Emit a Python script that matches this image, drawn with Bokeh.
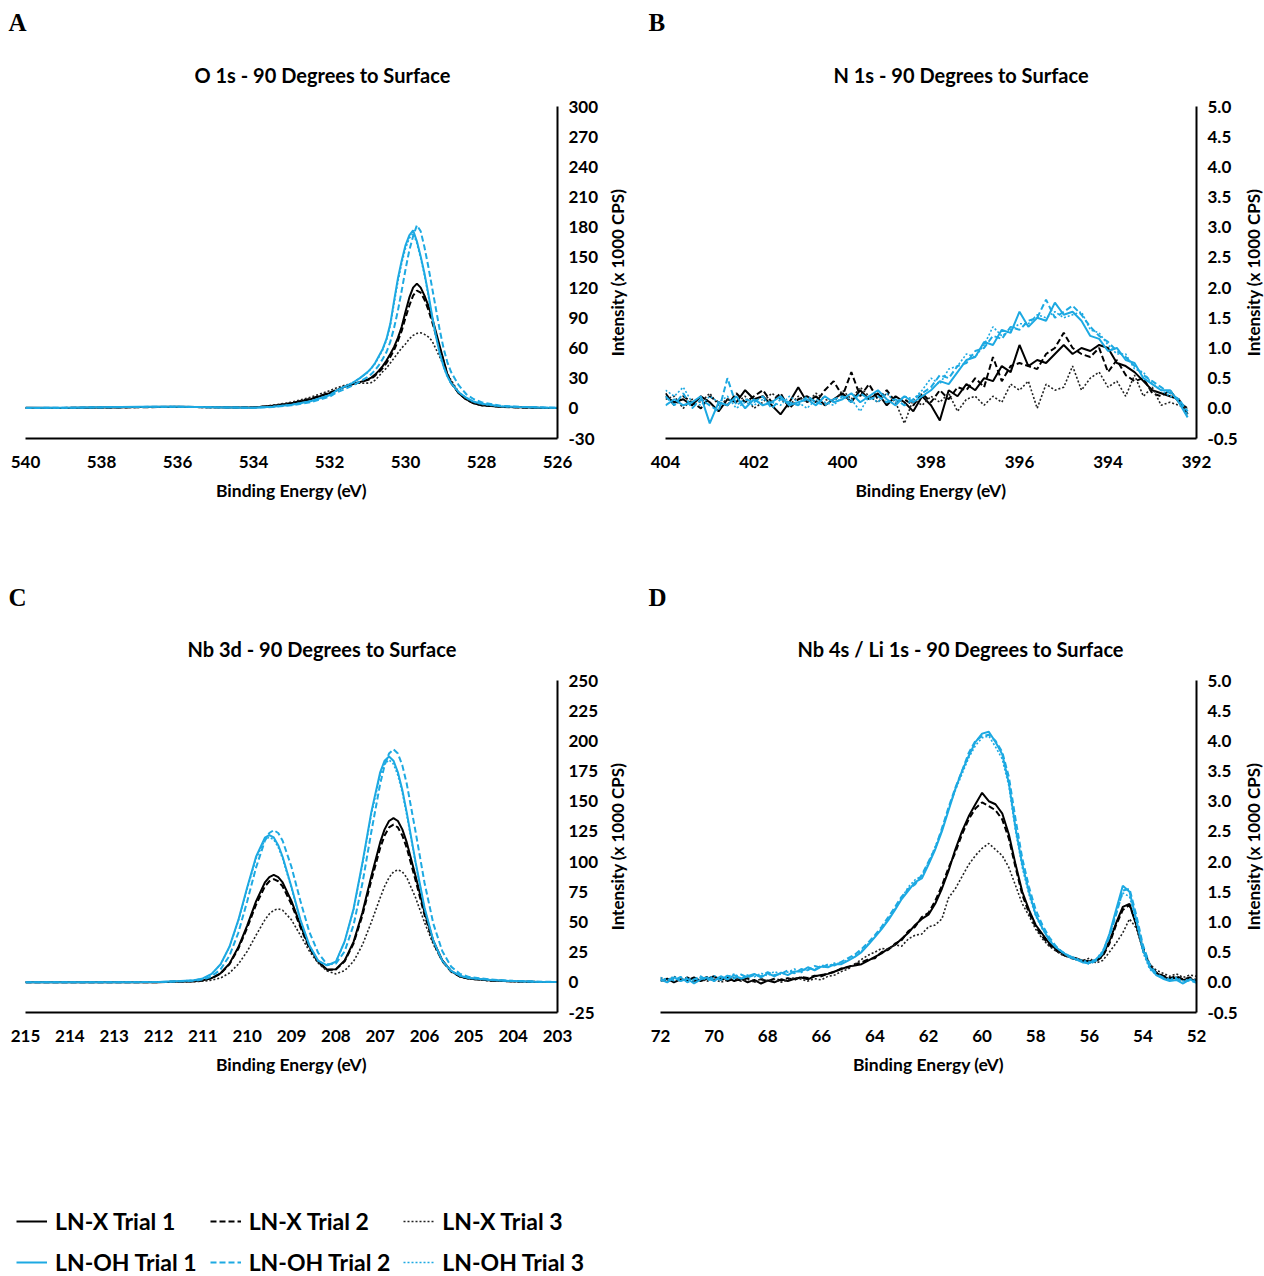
import math
from bokeh.plotting import figure
from bokeh.models import (Range1d, FixedTicker, NumeralTickFormatter, Title,
                          Legend, LegendItem)
from bokeh.layouts import column, row
from bokeh.embed import file_html
from bokeh.resources import INLINE

# ---------------- data ----------------
series_names = ["LN-X Trial 1", "LN-X Trial 2", "LN-X Trial 3",
                "LN-OH Trial 1", "LN-OH Trial 2", "LN-OH Trial 3"]

# Panel A : O 1s
a_x = [540, 539, 538, 537, 536, 535, 534, 533.5, 533, 532.5,
       532.0, 531.8, 531.6, 531.4, 531.2,
       531.0, 530.9, 530.8, 530.7, 530.6, 530.5, 530.4, 530.3, 530.2, 530.1,
       530.0, 529.9, 529.8, 529.7, 529.6, 529.5, 529.4, 529.3, 529.2, 529.1,
       529.0, 528.9, 528.8,
       528.6, 528.4, 528.2, 528.0, 527.5, 527, 526.5, 526]
a_x1 = [0.5, 0.3, 0.8, 1.2, 1.5, 1.0, 0.8, 2.5, 5.0, 9.0, 15.0, 18.0, 21.5, 24.0, 26.0,
        28.5, 30.5, 33.5, 37.5, 42.0, 47.5, 54.0, 61.0, 70.0, 81.0, 96.0, 110.0, 120.0,
        124.0, 120.0, 112.0, 102.0, 90.0, 76.0, 62.0, 48.0, 34.0, 26.0,
        15.0, 9.0, 5.0, 3.0, 1.5, 1.0, 0.5, 0.3]
a_x2 = [0.4, 0.4, 0.8, 1.0, 1.4, 1.0, 0.8, 2.5, 5.0, 9.5, 15.5, 18.5, 21.5, 24.0, 26.0,
        28.0, 29.5, 32.5, 36.0, 40.0, 45.0, 51.0, 58.0, 67.0, 77.0, 90.0, 102.0, 112.0,
        117.0, 115.0, 108.0, 98.0, 86.0, 73.0, 60.0, 47.0, 34.0, 25.0,
        15.0, 8.5, 5.0, 3.0, 1.5, 0.8, 0.5, 0.3]
a_x3 = [0.3, 0.3, 0.6, 1.0, 1.2, 0.8, 1.0, 3.0, 6.0, 11.0, 17.5, 20.5, 23.0, 24.5, 25.0,
        25.0, 25.5, 28.0, 32.0, 36.5, 40.0, 45.0, 50.0, 55.0, 60.0, 64.0, 69.0, 72.5,
        74.5, 75.0, 73.5, 71.0, 67.0, 59.0, 51.0, 43.0, 35.0, 28.0,
        16.0, 9.0, 5.0, 3.0, 1.5, 0.8, 0.5, 0.3]
a_oh1 = [0.5, 0.5, 1.0, 1.5, 1.5, 1.0, 0.5, 1.5, 3.5, 7.0, 13.0, 18.0, 21.5, 25.0, 30.0,
         36.0, 40.0, 45.0, 52.0, 59.0, 69.0, 84.0, 107.0, 129.0, 147.0, 162.0, 172.0, 177.0,
         166.0, 151.0, 134.0, 114.0, 92.0, 72.0, 55.0, 42.0, 32.0, 25.0,
         16.0, 10.5, 6.5, 4.5, 2.0, 1.2, 0.8, 0.5]
a_oh2 = [0.4, 0.5, 0.9, 1.4, 1.6, 1.0, 0.5, 1.3, 3.0, 6.0, 11.5, 16.0, 19.0, 22.5, 26.5,
         31.0, 34.0, 38.0, 43.0, 49.0, 56.0, 66.0, 80.0, 97.0, 117.0, 138.0, 157.0, 171.0,
         182.0, 176.0, 160.0, 141.0, 120.0, 99.0, 78.0, 60.0, 46.0, 36.0,
         23.0, 14.0, 9.0, 6.0, 2.5, 1.5, 1.0, 0.6]
a_oh3 = [0.6, 0.4, 1.1, 1.4, 1.7, 0.9, 0.6, 1.6, 3.6, 7.2, 13.2, 18.0, 21.8, 25.5, 30.0,
         35.5, 39.5, 44.5, 51.0, 58.0, 68.0, 82.0, 104.0, 126.0, 144.0, 159.0, 169.0, 174.0,
         164.0, 149.0, 132.0, 112.0, 91.0, 71.0, 54.0, 41.0, 31.5, 24.5,
         16.0, 10.5, 6.5, 4.5, 2.0, 1.2, 0.8, 0.5]

# Panel B : N 1s
b_x = [404.0, 403.8, 403.6, 403.4, 403.2, 403.0, 402.8, 402.6, 402.4, 402.2,
       402.0, 401.8, 401.6, 401.4, 401.2, 401.0, 400.8, 400.6, 400.4, 400.2,
       400.0, 399.8, 399.6, 399.4, 399.2, 399.0, 398.8, 398.6, 398.4, 398.2,
       398.0, 397.8, 397.6, 397.4, 397.2, 397.0, 396.8, 396.6, 396.4, 396.2,
       396.0, 395.8, 395.6, 395.4, 395.2, 395.0, 394.8, 394.6, 394.4, 394.2,
       394.0, 393.8, 393.6, 393.4, 393.2, 393.0, 392.8, 392.6, 392.4, 392.2]
b_x1 = [0.2, 0.1, 0.15, 0.05, 0.2, 0.1, -0.05, 0.15, 0.1, 0.3,
        0.15, 0.2, 0.05, -0.1, 0.1, 0.35, 0.1, 0.2, 0.05, 0.15,
        0.25, 0.1, 0.3, 0.15, 0.25, 0.05, 0.2, 0.1, -0.05, 0.2,
        0.05, -0.2, 0.3, 0.2, 0.4, 0.3, 0.5, 0.45, 0.7, 0.6,
        1.05, 0.7, 0.8, 0.75, 0.9, 1.05, 0.9, 1.0, 0.95, 1.05,
        1.0, 0.75, 0.7, 0.6, 0.45, 0.3, 0.25, 0.2, 0.15, -0.1]
b_x2 = [0.25, 0.05, 0.2, 0.1, 0.0, 0.2, 0.1, 0.05, 0.25, 0.1,
        0.2, 0.3, 0.1, 0.25, 0.0, 0.15, 0.2, 0.1, 0.3, 0.45,
        0.2, 0.6, 0.2, 0.4, 0.15, 0.3, 0.1, 0.15, 0.05, 0.25,
        0.1, 0.3, 0.15, 0.35, 0.3, 0.5, 0.35, 0.85, 0.45, 0.7,
        0.75, 0.7, 0.65, 0.9, 1.0, 1.25, 1.0, 0.9, 0.85, 1.0,
        0.6, 0.8, 0.55, 0.45, 0.5, 0.25, 0.2, 0.3, 0.1, 0.0]
b_x3 = [0.15, 0.2, 0.0, 0.15, 0.1, 0.25, 0.05, 0.15, 0.1, 0.2,
        0.0, 0.1, 0.25, 0.15, 0.05, 0.2, 0.1, 0.25, 0.15, 0.1,
        0.3, 0.15, 0.35, 0.2, 0.1, 0.25, 0.1, -0.25, 0.15, 0.05,
        0.2, 0.1, 0.25, -0.05, 0.15, 0.2, 0.05, 0.2, 0.1, 0.4,
        0.3, 0.45, 0.0, 0.4, 0.3, 0.35, 0.7, 0.3, 0.5, 0.6,
        0.35, 0.45, 0.2, 0.55, 0.2, 0.35, 0.05, 0.1, 0.05, 0.0]
b_oh1 = [0.05, 0.15, 0.05, 0.1, 0.2, -0.25, 0.1, 0.05, 0.2, 0.0,
         0.15, 0.05, 0.1, 0.2, 0.05, 0.1, 0.15, 0.05, 0.2, 0.1,
         0.15, 0.25, 0.1, 0.2, 0.3, 0.15, 0.05, 0.2, 0.1, 0.2,
         0.3, 0.45, 0.4, 0.6, 0.8, 0.85, 1.1, 1.05, 1.3, 1.25,
         1.6, 1.35, 1.5, 1.45, 1.75, 1.55, 1.6, 1.45, 1.2, 1.15,
         0.95, 1.0, 0.8, 0.75, 0.5, 0.4, 0.3, 0.3, 0.1, -0.15]
b_oh2 = [0.2, 0.05, 0.25, 0.0, 0.15, 0.05, -0.05, 0.5, 0.05, 0.15,
         0.1, 0.2, 0.0, 0.15, 0.1, 0.05, 0.2, 0.1, 0.05, 0.15,
         0.2, 0.1, 0.25, 0.15, 0.2, 0.1, 0.15, 0.05, 0.15, 0.25,
         0.35, 0.55, 0.5, 0.7, 0.75, 0.95, 1.0, 1.2, 1.15, 1.35,
         1.3, 1.45, 1.5, 1.8, 1.5, 1.6, 1.7, 1.55, 1.35, 1.2,
         1.1, 0.95, 0.85, 0.7, 0.55, 0.45, 0.35, 0.25, 0.15, -0.05]
b_oh3 = [0.3, 0.2, 0.35, 0.1, 0.05, 0.2, 0.1, 0.2, 0.0, 0.1,
         0.05, 0.15, 0.1, 0.05, 0.2, 0.1, 0.0, 0.15, 0.1, 0.05,
         0.2, 0.15, -0.05, 0.2, 0.1, 0.25, 0.1, 0.2, 0.15, 0.3,
         0.5, 0.4, 0.65, 0.7, 0.9, 0.85, 1.05, 1.35, 1.2, 1.3,
         1.4, 1.4, 1.55, 1.5, 1.6, 1.5, 1.55, 1.6, 1.3, 1.25,
         1.05, 0.9, 0.9, 0.65, 0.6, 0.4, 0.3, 0.2, 0.15, -0.1]

# Panel C : Nb 3d
c_x = [215, 214, 213, 212, 211.5, 211.2,
       211.0, 210.8, 210.6, 210.4, 210.2, 210.0, 209.8, 209.6,
       209.5, 209.4, 209.3,
       209.2, 209.0, 208.8, 208.6, 208.4, 208.2, 208.0, 207.8, 207.6, 207.4, 207.2, 207.0,
       206.9, 206.8, 206.7, 206.6, 206.5, 206.4,
       206.2, 206.0, 205.8, 205.6, 205.4, 205.2, 205.0,
       204.5, 204.0, 203.5, 203.0]
c_x1 = [0, 0, 0, 0.15, 0.6, 0.9, 1.6, 3.5, 7.5, 15.5, 29, 47, 67, 82.7, 87.2, 89, 87.2,
        82.7, 67.3, 47.6, 29.6, 17.3, 10.6, 10.9, 18.1, 33.5, 57.8, 87.8, 115.9,
        126.7, 133.6, 136, 133.6, 126.7, 115.9, 87.8, 58.2, 34.2, 18.3, 9.2, 4.9, 3.2,
        1.6, 0.8, 0.4, 0.2]
c_x2 = [0, 0, 0, 0.15, 0.6, 0.9, 1.5, 3.4, 7.2, 14.9, 27.8, 45.1, 64.3, 79.4, 83.7, 85.4, 83.7,
        79.4, 64.6, 45.7, 28.4, 16.6, 10.2, 10.5, 17.4, 32.2, 55.5, 84.3, 111.3,
        121.6, 128.3, 130.6, 128.3, 121.6, 111.3, 84.3, 55.9, 32.8, 17.6, 8.8, 4.7, 3.1,
        1.5, 0.8, 0.4, 0.2]
c_x3 = [0, 0, 0, 0.1, 0.3, 0.5, 0.9, 1.7, 3.6, 7.7, 15, 25.6, 39, 51.7, 56.7, 59.7, 60.9,
        59.7, 51.7, 39, 26, 16, 9.4, 7, 9.7, 17.4, 31, 49.7, 70,
        79.4, 86.8, 91.5, 93.2, 91.5, 86.8, 70, 49.7, 31.4, 17.9, 9.4, 4.8, 2.8,
        1.2, 0.6, 0.3, 0.15]
c_oh1 = [0, 0, 0.1, 0.3, 1.0, 1.8, 3.2, 7.0, 15.0, 29.5, 51.5, 78.5, 104.0, 119.8, 122.0, 120.0, 113.6,
         104.0, 79.0, 52.0, 31.0, 18.0, 14.0, 17.0, 34.0, 61.0, 99.0, 141.0, 174.0,
         183.6, 187.0, 183.6, 174.0, 159.3, 140.6, 99.5, 62.0, 34.5, 18.0, 9.5, 5.5, 3.6,
         2.0, 1.0, 0.5, 0.3]
c_oh2 = [0, 0, 0.1, 0.2, 0.8, 1.3, 2.3, 4.9, 10.7, 22, 41, 67, 95, 117.3, 123.7, 126, 123.7,
         117.3, 95.5, 67.5, 42, 24.5, 15, 15.4, 25.7, 47.5, 82, 124.5, 164.4,
         179.7, 189.5, 193, 189.5, 179.7, 164.4, 124.5, 82.5, 48.5, 26, 13, 7, 4.5,
         2.3, 1.2, 0.6, 0.3]
c_oh3 = [0, 0, 0.1, 0.3, 1.0, 1.8, 3.1, 6.9, 14.8, 29.1, 50.7, 77.3, 102.4, 118.0, 120.2, 118.2, 111.9,
         102.4, 77.8, 51.2, 30.5, 17.7, 13.8, 16.7, 33.5, 60.1, 97.5, 138.9, 171.4,
         180.8, 184.2, 180.8, 171.4, 156.9, 138.5, 98.0, 61.1, 34.0, 17.7, 9.4, 5.4, 3.5,
         2.0, 1.0, 0.5, 0.3]

# Panel D : Nb 4s / Li 1s
d_x = [72.0, 71.75, 71.5, 71.25, 71.0, 70.75, 70.5, 70.25, 70.0, 69.75,
       69.5, 69.25, 69.0, 68.75, 68.5, 68.25, 68.0, 67.75, 67.5, 67.25,
       67.0, 66.75, 66.5, 66.25, 66.0, 65.75, 65.5, 65.25, 65.0, 64.75,
       64.5, 64.25, 64.0, 63.75, 63.5, 63.25, 63.0, 62.75, 62.5, 62.25,
       62.0, 61.75, 61.5, 61.25, 61.0, 60.75, 60.5, 60.25, 60.0, 59.75,
       59.5, 59.25, 59.0, 58.75, 58.5, 58.25, 58.0, 57.75, 57.5, 57.25,
       57.0, 56.75, 56.5, 56.25, 56.0, 55.75, 55.5, 55.25, 55.0, 54.75,
       54.5, 54.25, 54.0, 53.75, 53.5, 53.25, 53.0, 52.75, 52.5, 52.25, 52.0]
d_x1 = [0.02, 0.06, 0.0, 0.05, 0.03, 0.08, 0.02, 0.06, 0.1, 0.04, 0.08, 0.02, 0.06, 0.0, 0.04,
        -0.02, 0.03, 0.0, 0.05, 0.02, 0.06, 0.08, 0.05, 0.1, 0.12,
        0.14, 0.18, 0.22, 0.26, 0.28, 0.3, 0.36, 0.42, 0.48, 0.56, 0.62, 0.72, 0.82, 0.95, 1.05,
        1.12, 1.3, 1.55, 1.85, 2.2, 2.5, 2.75, 2.95, 3.14,
        3.0, 2.95, 2.8, 2.45, 1.95, 1.5, 1.2, 0.95, 0.8, 0.65, 0.55, 0.48, 0.42, 0.4, 0.36, 0.35,
        0.36, 0.45, 0.68, 0.98, 1.25, 1.3, 0.95, 0.55, 0.28, 0.15, 0.1, 0.05, 0.08, 0.04, 0.06, 0.02]
d_x2 = [0.05, 0.01, 0.07, 0.03, 0.08, 0.02, 0.05, 0.09, 0.03, 0.07, 0.02, 0.06, 0.03, 0.07, 0.01,
        0.05, 0.02, 0.06, 0.03, 0.07, 0.04, 0.09, 0.07, 0.11, 0.1,
        0.15, 0.17, 0.23, 0.25, 0.3, 0.33, 0.38, 0.4, 0.5, 0.54, 0.64, 0.7, 0.85, 0.92, 1.08,
        1.15, 1.35, 1.6, 1.9, 2.15, 2.45, 2.7, 2.88, 2.98,
        2.92, 2.85, 2.7, 2.38, 1.9, 1.45, 1.15, 0.92, 0.76, 0.62, 0.53, 0.46, 0.41, 0.38, 0.35, 0.33,
        0.35, 0.43, 0.64, 0.95, 1.2, 1.28, 0.98, 0.58, 0.3, 0.16, 0.11, 0.07, 0.1, 0.05, 0.08, 0.04]
d_x3 = [0.08, 0.02, 0.1, 0.04, 0.07, 0.0, 0.05, 0.02, 0.06, 0.0, 0.04, 0.08, 0.02, 0.05, 0.0,
        0.06, 0.02, 0.05, 0.0, 0.04, 0.08, 0.05, 0.02, 0.06, 0.04,
        0.1, 0.12, 0.18, 0.22, 0.3, 0.38, 0.45, 0.5, 0.56, 0.55, 0.62, 0.6, 0.72, 0.78, 0.8,
        0.92, 0.95, 1.05, 1.4, 1.55, 1.75, 1.95, 2.1, 2.22,
        2.3, 2.2, 2.1, 1.9, 1.6, 1.3, 1.1, 0.88, 0.72, 0.6, 0.52, 0.45, 0.42, 0.38, 0.36, 0.4,
        0.32, 0.36, 0.5, 0.65, 0.82, 1.05, 0.9, 0.55, 0.3, 0.2, 0.15, 0.1, 0.14, 0.08, 0.12, 0.1]
d_oh1 = [0.05, 0.0, 0.08, 0.02, 0.06, -0.02, 0.05, 0.08, 0.02, 0.1, 0.05, 0.12, 0.06, 0.1, 0.14,
         0.08, 0.15, 0.1, 0.16, 0.12, 0.18, 0.18, 0.25, 0.2, 0.26,
         0.25, 0.3, 0.3, 0.36, 0.42, 0.5, 0.62, 0.75, 0.88, 1.03, 1.2, 1.38, 1.52, 1.66, 1.72,
         1.95, 2.2, 2.5, 2.85, 3.2, 3.5, 3.75, 3.98, 4.12,
         4.15, 3.98, 3.78, 3.3, 2.55, 1.95, 1.5, 1.12, 0.9, 0.7, 0.58, 0.5, 0.42, 0.38, 0.33, 0.32,
         0.38, 0.5, 0.8, 1.2, 1.6, 1.5, 1.05, 0.55, 0.25, 0.12, 0.06, 0.02, 0.04, -0.02, 0.05, 0.0]
d_oh2 = [0.02, 0.07, 0.03, 0.09, 0.0, 0.05, 0.1, 0.03, 0.07, 0.04, 0.11, 0.06, 0.13, 0.08, 0.12,
         0.1, 0.17, 0.12, 0.14, 0.2, 0.15, 0.22, 0.2, 0.27, 0.24,
         0.3, 0.28, 0.34, 0.4, 0.46, 0.55, 0.66, 0.78, 0.92, 1.08, 1.25, 1.42, 1.55, 1.62, 1.78,
         2.0, 2.22, 2.55, 2.9, 3.22, 3.5, 3.8, 4.0, 4.08,
         4.1, 4.0, 3.82, 3.4, 2.7, 2.05, 1.58, 1.2, 0.95, 0.75, 0.6, 0.5, 0.44, 0.38, 0.35, 0.3,
         0.36, 0.48, 0.75, 1.12, 1.52, 1.55, 1.12, 0.62, 0.3, 0.14, 0.08, 0.04, 0.06, 0.01, 0.03, -0.01]
d_oh3 = [0.08, 0.03, 0.1, 0.04, 0.08, 0.02, 0.09, 0.05, 0.11, 0.06, 0.09, 0.14, 0.07, 0.12, 0.09,
         0.15, 0.11, 0.18, 0.13, 0.17, 0.22, 0.16, 0.24, 0.21, 0.28,
         0.27, 0.32, 0.31, 0.38, 0.44, 0.52, 0.64, 0.76, 0.9, 1.05, 1.22, 1.4, 1.58, 1.7, 1.76,
         1.98, 2.25, 2.52, 2.88, 3.18, 3.45, 3.72, 3.92, 4.05,
         4.08, 3.9, 3.7, 3.25, 2.5, 1.9, 1.45, 1.1, 0.88, 0.72, 0.58, 0.5, 0.44, 0.4, 0.36, 0.34,
         0.38, 0.52, 0.78, 1.15, 1.48, 1.42, 1.0, 0.5, 0.22, 0.12, 0.07, 0.05, 0.08, 0.02, 0.06, 0.03]

# ---------------- style ----------------
BLACK = "#000000"
CYAN = "#1DA9E2"
FONT = "Lato"
YLABEL = "Intensity (x 1000 CPS)"
styles = [
    dict(line_color=BLACK, line_width=2.0, line_dash="solid"),
    dict(line_color=BLACK, line_width=2.0, line_dash="6 3"),
    dict(line_color="#222222", line_width=1.6, line_dash="2 2"),
    dict(line_color=CYAN, line_width=2.0, line_dash="solid"),
    dict(line_color=CYAN, line_width=2.0, line_dash="6 3"),
    dict(line_color=CYAN, line_width=1.6, line_dash="2 2"),
]
H = 575


def panel(width, frame_left, frame_right, frame_top, frame_bottom,
          xr, yr, xticks, yticks, yfmt, xs, ys_list, letter, title,
          letter_off, title_off, letter_standoff):
    p = figure(width=width, height=H, title=None,
               x_range=Range1d(*xr), y_range=Range1d(*yr),
               y_axis_location="right", output_backend="svg",
               toolbar_location=None,
               min_border_left=frame_left, min_border_right=width - frame_right,
               min_border_top=frame_top, min_border_bottom=H - frame_bottom)
    p.grid.visible = False
    p.outline_line_color = None
    for ax in (p.xaxis[0], p.yaxis[0]):
        ax.axis_line_color = "black"
        ax.axis_line_width = 2
        ax.major_tick_line_color = None
        ax.minor_tick_line_color = None
        ax.major_tick_out = 0
        ax.major_tick_in = 0
        ax.major_label_text_font = FONT
        ax.major_label_text_font_style = "bold"
        ax.major_label_text_font_size = "17px"
        ax.major_label_text_color = "black"
    xa, ya = p.xaxis[0], p.yaxis[0]
    xa.ticker = FixedTicker(ticks=xticks)
    ya.ticker = FixedTicker(ticks=yticks)
    xa.formatter = NumeralTickFormatter(format="0")
    ya.formatter = NumeralTickFormatter(format=yfmt)
    xa.major_label_standoff = 17
    ya.major_label_standoff = 11
    xa.axis_label = "Binding Energy (eV)"
    xa.axis_label_text_font = FONT
    xa.axis_label_text_font_style = "bold"
    xa.axis_label_text_color = "black"
    xa.axis_label_text_font_size = "17.5px"
    xa.axis_label_standoff = 9

    for ys, st in zip(ys_list, styles):
        p.line(xs, ys, **st)

    p.add_layout(Title(text=title, align="left", offset=title_off,
                       standoff=40, text_font=FONT,
                       text_font_style="bold", text_font_size="20px",
                       text_color="black"), "above")
    p.add_layout(Title(text=letter, align="left", offset=letter_off,
                       standoff=letter_standoff, text_font="Liberation Serif",
                       text_font_style="bold", text_font_size="25px",
                       text_color="black"), "above")
    return p


def ylabel_strip(width, frame_top, frame_bottom):
    # thin companion figure that carries the rotated y-axis title of the panel
    f = figure(width=width, height=H, title=None, x_range=Range1d(0, 1),
               y_range=Range1d(0, 1), x_axis_location=None,
               y_axis_location=None, output_backend="svg",
               toolbar_location=None, min_border_left=0, min_border_right=0,
               min_border_top=frame_top, min_border_bottom=H - frame_bottom)
    f.grid.visible = False
    f.outline_line_color = None
    f.add_layout(Title(text=YLABEL, align="center", vertical_align="middle",
                       standoff=0, text_font=FONT, text_font_style="bold",
                       text_font_size="17px", text_color="black"), "left")
    return f


pA = panel(605, 25, 557, 106, 438, (540, 526), (-30, 300),
           list(range(526, 541, 2)), list(range(-30, 301, 30)), "0",
           a_x, [a_x1, a_x2, a_x3, a_oh1, a_oh2, a_oh3],
           "A", "O 1s - 90 Degrees to Surface", -17, 169, 9)
pB = panel(601, 25, 556, 106, 438, (404, 392), (-0.5, 5.0),
           list(range(392, 405, 2)), [i * 0.5 for i in range(-1, 11)], "0.0",
           b_x, [b_x1, b_x2, b_x3, b_oh1, b_oh2, b_oh3],
           "B", "N 1s - 90 Degrees to Surface", -17, 168, 9)
pC = panel(605, 25, 557, 105, 437, (215, 203), (-25, 250),
           list(range(203, 216, 1)), list(range(-25, 251, 25)), "0",
           c_x, [c_x1, c_x2, c_x3, c_oh1, c_oh2, c_oh3],
           "C", "Nb 3d - 90 Degrees to Surface", -17, 162, 7)
pD = panel(601, 20, 556, 105, 437, (72, 52), (-0.5, 5.0),
           list(range(52, 73, 2)), [i * 0.5 for i in range(-1, 11)], "0.0",
           d_x, [d_x1, d_x2, d_x3, d_oh1, d_oh2, d_oh3],
           "D", "Nb 4s / Li 1s - 90 Degrees to Surface", -12, 137, 7)

yA = ylabel_strip(35, 106, 438)
yB = ylabel_strip(23, 106, 438)
yC = ylabel_strip(35, 105, 437)
yD = ylabel_strip(23, 105, 437)

# ---------------- legend strip ----------------
pL = figure(width=1264, height=126, title=None, x_range=Range1d(0, 1),
            y_range=Range1d(0, 1), x_axis_location=None, y_axis_location=None,
            output_backend="svg", toolbar_location=None,
            min_border_left=0, min_border_right=0, min_border_top=0,
            min_border_bottom=0)
pL.grid.visible = False
pL.outline_line_color = None
items = []
for name, st in zip(series_names, styles):
    r = pL.line(x=[-10, -9], y=[-10, -9], **st)
    items.append(LegendItem(label=name, renderers=[r]))
leg = Legend(items=items, location=(16, 0), orientation="horizontal", ncols=3,
             border_line_color=None, background_fill_alpha=0, padding=0,
             margin=0, spacing=13, glyph_width=31, glyph_height=24,
             label_standoff=8, label_height=24, label_text_font=FONT,
             label_text_font_style="bold", label_text_font_size="23px",
             label_text_color="black")
pL.add_layout(leg)

layout = column(row(pA, yA, pB, yB), row(pC, yC, pD, yD), pL)
open("out.html", "w").write(file_html(layout, INLINE))
